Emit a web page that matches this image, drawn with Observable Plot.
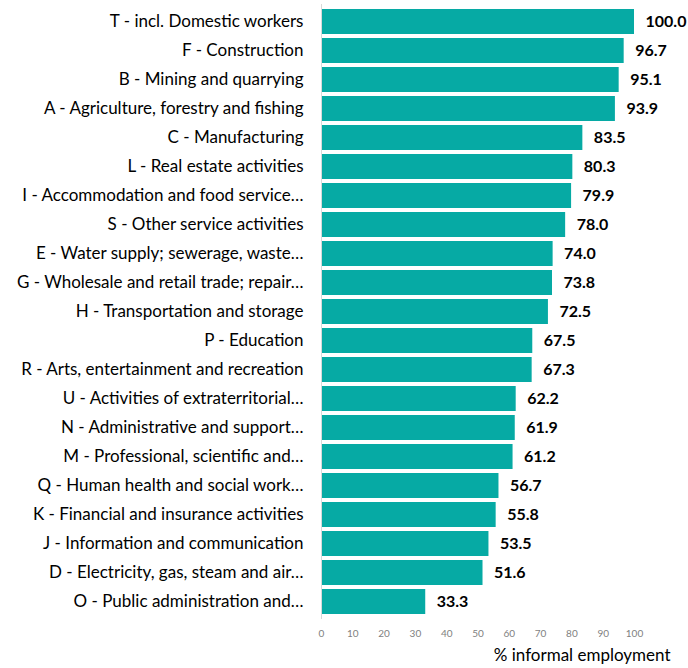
<!DOCTYPE html>
<html>
<head>
<meta charset="utf-8">
<script src="https://cdn.jsdelivr.net/npm/d3@7"></script>
<script src="https://cdn.jsdelivr.net/npm/@observablehq/plot@0.6"></script>
<style>
  html, body { margin: 0; padding: 0; background: #fff; }
</style>
</head>
<body>
<div id="chart"></div>
<script>
const categories = [
  "T - incl. Domestic workers",
  "F - Construction",
  "B - Mining and quarrying",
  "A - Agriculture, forestry and fishing",
  "C - Manufacturing",
  "L - Real estate activities",
  "I - Accommodation and food service…",
  "S - Other service activities",
  "E - Water supply; sewerage, waste…",
  "G - Wholesale and retail trade; repair…",
  "H - Transportation and storage",
  "P - Education",
  "R - Arts, entertainment and recreation",
  "U - Activities of extraterritorial…",
  "N - Administrative and support…",
  "M - Professional, scientific and…",
  "Q - Human health and social work…",
  "K - Financial and insurance activities",
  "J - Information and communication",
  "D - Electricity, gas, steam and air…",
  "O - Public administration and…"
];
const values = [100.0, 96.7, 95.1, 93.9, 83.5, 80.3, 79.9, 78.0, 74.0, 73.8, 72.5, 67.5, 67.3, 62.2, 61.9, 61.2, 56.7, 55.8, 53.5, 51.6, 33.3];
const xTicks = [0, 10, 20, 30, 40, 50, 60, 70, 80, 90, 100];
const xLabel = "% informal employment";

const data = categories.map((c, i) => ({category: c, value: values[i]}));

const chart = Plot.plot({
  width: 688,
  height: 668,
  marginTop: 4,
  marginBottom: 49,
  marginLeft: 321,
  marginRight: 54,
  style: {fontFamily: "Lato, sans-serif", background: "#fff"},
  x: {domain: [0, 100], ticks: xTicks},
  y: {domain: categories, paddingInner: 0.14, paddingOuter: 0.07},
  marks: [
    Plot.barX(data, {x: "value", y: "category", fill: "#06aaa4"}),
    Plot.ruleX([0], {stroke: "#d9d9d9", strokeWidth: 1}),
    Plot.text(data, {x: "value", y: "category", text: d => d.value.toFixed(1), textAnchor: "start", dx: 11, fontWeight: "bold", fontSize: 16, fill: "#000"}),
    Plot.axisY({tickSize: 0, tickPadding: 18, fontSize: 17, label: null, color: "#000"}),
    Plot.axisX({ticks: xTicks, tickSize: 0, tickPadding: 10, fontSize: 10, label: null, color: "#7f7f7f"}),
    Plot.text([xLabel], {frameAnchor: "bottom-right", text: d => d, textAnchor: "end", dx: 36, dy: 41, fontSize: 17, fill: "#000"})
  ]
});
document.getElementById("chart").appendChild(chart);
</script>
</body>
</html>
